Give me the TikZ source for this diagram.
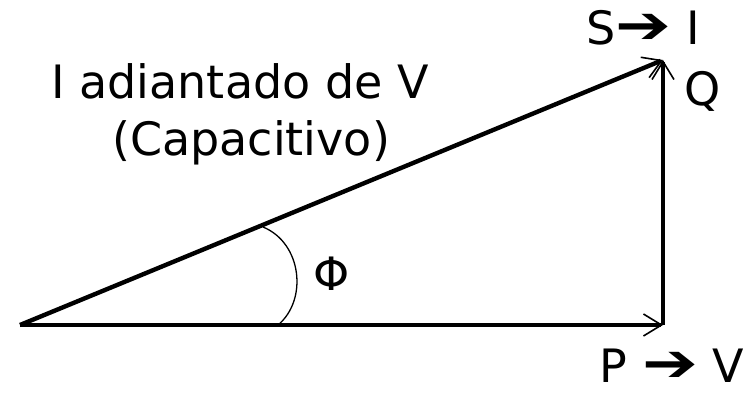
\documentclass[tikz,border=0pt]{standalone}
\usepackage{fontspec}
\setmainfont{DejaVu Sans}
\usepackage{graphicx}
\usepackage{tikz}
\usetikzlibrary{arrows.meta, positioning, calc}
\newcommand*\biglbl{\fontsize{46}{55}\selectfont}
\newcommand*\fatarrow{\smash{\raisebox{1pt}{\scalebox{1.45}[1.15]{➔}}}}
\tikzstyle{lbl} = [font=\biglbl, inner sep=0pt, anchor=base]
\tikzstyle{phasor} = [line width=4.4pt, line join=round, -{Straight Barb[length=18pt, width=22pt, line width=1.6pt]}]
\tikzstyle{anglearc} = [line width=1.3pt]

\begin{document}
\begin{tikzpicture}[x=1pt, y=-1pt]
    \useasboundingbox (0,0) rectangle (751,396);

    % === triangle corners ===
    \coordinate (orig) at (20,325);
    \coordinate (pend) at (663,325);
    \coordinate (send) at (663,60);

    % === phasors ===
    \draw [phasor] (orig) -- (pend);
    \draw [phasor] (pend) -- (send);
    \draw [phasor] (orig) -- (send);

    % angle between P and S
    \coordinate (arcA) at (263,227);
    \coordinate (arcB) at (278,325);
    \draw [anglearc] (arcA) .. controls (302,243) and (308,300) .. (arcB);
    \node (phi) [lbl] at (332,290) {Φ};

    % === labels ===
    \node (sitxt) [lbl] at (643,45) {S\fatarrow{} I};
    \node (qtxt) [lbl] at (703,105) {Q};
    \node (pvtxt) [lbl] at (672,382) {P \fatarrow{} V};

    \node (lead) [lbl] at (240,98) {I adiantado de V};
    \node (capac) [lbl] at (251,155) {(Capacitivo)};

\end{tikzpicture}
\end{document}
